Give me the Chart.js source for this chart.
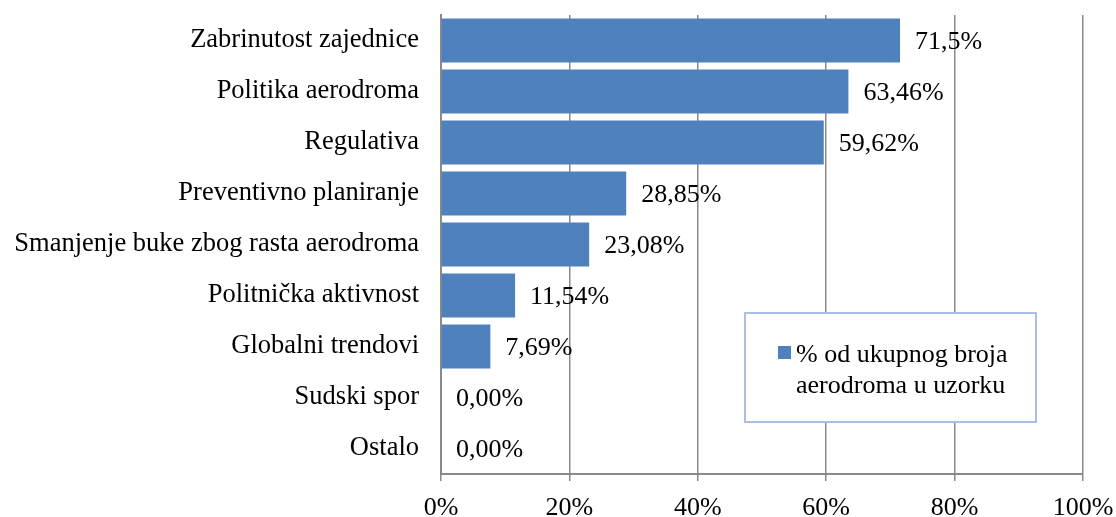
<!DOCTYPE html>
<html>
<head>
<meta charset="utf-8">
<script src="https://cdn.jsdelivr.net/npm/chart.js@4.4.1/dist/chart.umd.min.js"></script>
<style>
  html, body { margin: 0; padding: 0; background: #fff; }
  #wrap { width: 1116px; height: 517px; }
</style>
</head>
<body>
<div id="wrap"><canvas id="chart"></canvas></div>
<script>
// Chart data
const categories = ['Zabrinutost zajednice', 'Politika aerodroma', 'Regulativa', 'Preventivno planiranje',
    'Smanjenje buke zbog rasta aerodroma', 'Politnička aktivnost', 'Globalni trendovi', 'Sudski spor', 'Ostalo'];
const shares = [71.5, 63.46, 59.62, 28.85, 23.08, 11.54, 7.69, 0, 0];
const shareLabels = ['71,5%', '63,46%', '59,62%', '28,85%', '23,08%', '11,54%', '7,69%', '0,00%', '0,00%'];
const seriesName = '% od ukupnog broja aerodroma u uzorku';
const xTicks = [0, 20, 40, 60, 80, 100];

const FONT = "'Liberation Serif', 'Times New Roman', serif";
const FONT_SIZE = 26;
const BAR_COLOR = '#4F81BD';
const GRID_COLOR = '#8a8a8a';

// Value labels to the right of each bar
const valueLabels = {
    id: 'valueLabels',
    afterDatasetsDraw(chart) {
        const ctx = chart.ctx;
        const meta = chart.getDatasetMeta(0);
        ctx.save();
        ctx.font = FONT_SIZE + 'px ' + FONT;
        ctx.fillStyle = '#000';
        ctx.textBaseline = 'middle';
        ctx.textAlign = 'left';
        meta.data.forEach((bar, i) => {
            ctx.fillText(shareLabels[i], bar.x + 15, bar.y + 2);
        });
        ctx.restore();
    }
};

// Boxed legend inside the plot area
const boxLegend = {
    id: 'boxLegend',
    afterDraw(chart) {
        const ctx = chart.ctx;
        const x = 745, y = 313, w = 291, h = 109;
        ctx.save();
        ctx.fillStyle = '#fff';
        ctx.fillRect(x, y, w, h);
        ctx.strokeStyle = '#a9c0e4';
        ctx.lineWidth = 2;
        ctx.strokeRect(x, y, w, h);
        ctx.fillStyle = BAR_COLOR;
        ctx.fillRect(778, 346, 13, 13);
        ctx.fillStyle = '#000';
        ctx.font = FONT_SIZE + 'px ' + FONT;
        ctx.textBaseline = 'middle';
        const words = seriesName.split(' ');
        ctx.fillText(words.slice(0, 4).join(' '), 796, 355);
        ctx.fillText(words.slice(4).join(' '), 796, 386);
        ctx.restore();
    }
};

new Chart(document.getElementById('chart').getContext('2d'), {
    type: 'bar',
    data: {
        labels: categories,
        datasets: [{
            label: seriesName,
            data: shares,
            backgroundColor: BAR_COLOR,
            borderWidth: 0,
            categoryPercentage: 1,
            barPercentage: 0.86
        }]
    },
    options: {
        indexAxis: 'y',
        responsive: true,
        maintainAspectRatio: false,
        animation: false,
        layout: { padding: { top: 15, right: 33, left: 0, bottom: 0 } },
        plugins: {
            legend: { display: false },
            tooltip: { enabled: false }
        },
        scales: {
            x: {
                min: 0,
                max: 100,
                afterBuildTicks(scale) {
                    scale.ticks = xTicks.map(v => ({ value: v }));
                },
                afterFit(scale) {
                    scale.height = 43;
                    scale.paddingLeft = 0;
                    scale.paddingRight = 0;
                },
                ticks: {
                    color: '#000',
                    font: { family: FONT, size: FONT_SIZE },
                    padding: 12,
                    maxRotation: 0,
                    callback: v => v + '%'
                },
                grid: {
                    color: GRID_COLOR,
                    lineWidth: 1.5,
                    tickLength: 7,
                    tickColor: GRID_COLOR
                },
                border: { color: GRID_COLOR, width: 2 }
            },
            y: {
                afterFit(scale) {
                    scale.width = 441;
                    scale.paddingTop = 0;
                    scale.paddingBottom = 0;
                },
                ticks: {
                    color: '#000',
                    font: { family: FONT, size: 26.5 },
                    padding: 22
                },
                grid: { display: false, drawTicks: false },
                border: { color: GRID_COLOR, width: 2 }
            }
        }
    },
    plugins: [valueLabels, boxLegend]
});
</script>
</body>
</html>
